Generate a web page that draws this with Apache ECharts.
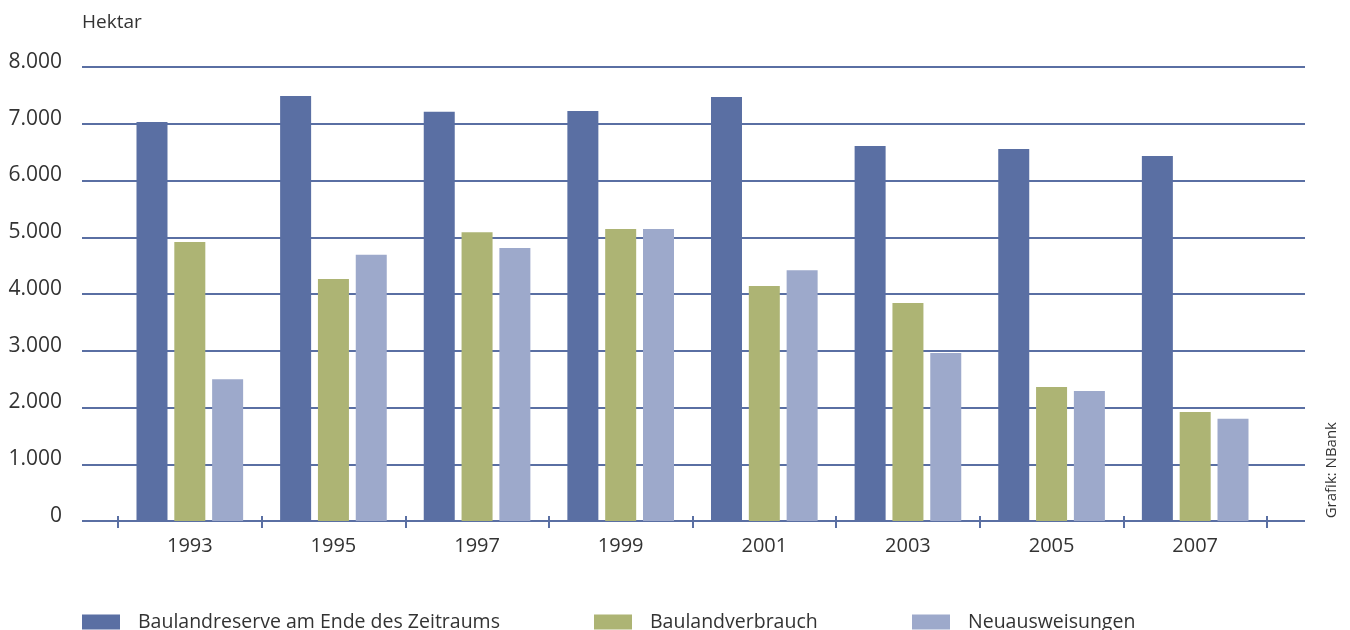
<!DOCTYPE html>
<html>
<head>
<meta charset="utf-8">
<script src="https://cdn.jsdelivr.net/npm/echarts@6/dist/echarts.min.js"></script>
<style>
  html, body { margin: 0; padding: 0; background: #fff; }
  #chart { width: 1350px; height: 630px; }
</style>
</head>
<body>
<div id="chart"></div>
<script>
// years on the x axis
const years = ["1993", "1995", "1997", "1999", "2001", "2003", "2005", "2007"];
// Hektar
const reserve = [7030, 7490, 7210, 7225, 7470, 6610, 6555, 6430];
const verbrauch = [4915, 4265, 5090, 5145, 4140, 3840, 2360, 1920];
const neu = [2500, 4690, 4810, 5145, 4420, 2960, 2290, 1800];
const seriesNames = ["Baulandreserve am Ende des Zeitraums", "Baulandverbrauch", "Neuausweisungen"];
const colors = ["#5a6fa3", "#adb474", "#9da9cb"];

const font = "'Open Sans', 'Noto Sans', sans-serif";
let chart = echarts.init(document.getElementById("chart"));

function legendFor(name, left) {
  return {
    data: [name],
    left: left,
    top: 612,
    padding: 0,
    itemWidth: 38,
    itemHeight: 15,
    itemGap: 0,
    icon: "rect",
    textStyle: { fontFamily: font, fontSize: 19.5, color: "#333", padding: [0, 0, 0, 13] },
    selectedMode: false
  };
}

let option = {
  animation: false,
  textStyle: { fontFamily: font },
  legend: [
    legendFor(seriesNames[0], 82),
    legendFor(seriesNames[1], 594),
    legendFor(seriesNames[2], 912)
  ],
  grid: [
    // wide grid for the horizontal lines
    { left: 82, right: 45, top: 67, bottom: 109 },
    // narrower grid for the bars and year ticks
    { left: 118, right: 83, top: 67, bottom: 109 }
  ],
  xAxis: [
    { type: "category", gridIndex: 0, data: years, show: false },
    {
      type: "category",
      gridIndex: 1,
      data: years,
      offset: -5,
      axisLine: { show: false },
      axisTick: { show: true, length: 12, lineStyle: { color: "#5a6fa3", width: 2 } },
      axisLabel: { fontFamily: font, fontSize: 20, color: "#333", margin: 20 }
    }
  ],
  yAxis: [
    {
      type: "value",
      gridIndex: 0,
      min: 0,
      max: 8000,
      interval: 1000,
      name: "Hektar",
      nameLocation: "end",
      nameGap: 35,
      nameTextStyle: { fontFamily: font, fontSize: 19, color: "#333", align: "left" },
      axisLine: { show: false },
      axisTick: { show: false },
      axisLabel: {
        fontFamily: font,
        fontSize: 21,
        color: "#333",
        margin: 20,
        verticalAlign: "bottom",
        lineHeight: 10,
        formatter: (v) => v === 0 ? "0" : (v / 1000) + ".000"
      },
      splitLine: { show: true, lineStyle: { color: "#5a6fa3", width: 2 } }
    },
    { type: "value", gridIndex: 1, min: 0, max: 8000, interval: 1000, show: false, splitLine: { show: false } }
  ],
  series: [reserve, verbrauch, neu].map((vals, i) => ({
    name: seriesNames[i],
    type: "bar",
    xAxisIndex: 1,
    yAxisIndex: 1,
    data: vals,
    barWidth: 31,
    barGap: "22%",
    itemStyle: { color: colors[i] }
  })),
  graphic: [
    {
      type: "text",
      left: 1324,
      top: 422,
      rotation: Math.PI / 2,
      style: { text: "Grafik: NBank", font: "15px " + font, fill: "#333" }
    }
  ]
};
chart.setOption(option);
</script>
</body>
</html>
